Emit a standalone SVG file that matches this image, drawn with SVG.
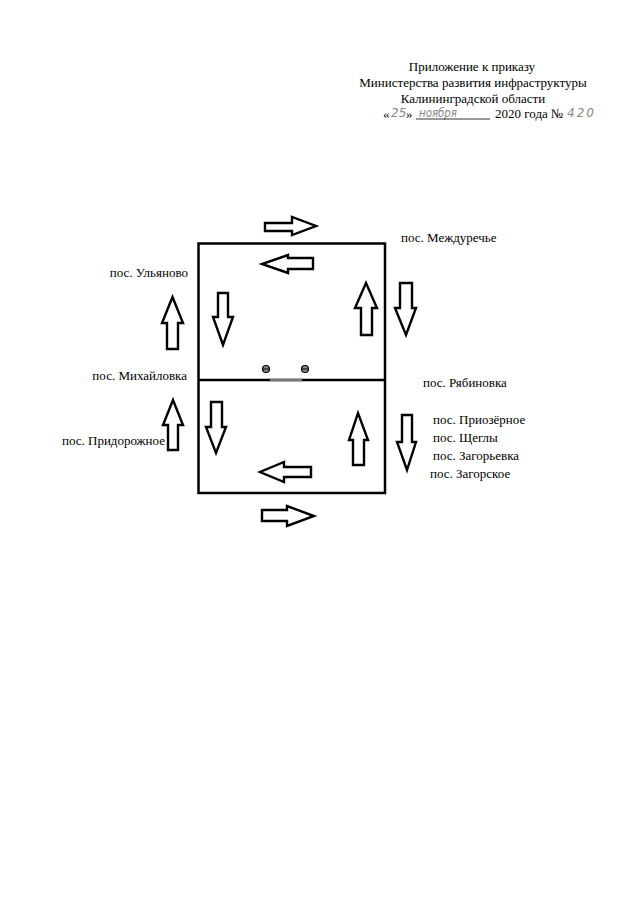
<svg xmlns="http://www.w3.org/2000/svg" width="640" height="905" viewBox="0 0 640 905">
<style>
.t{font-family:"Liberation Serif","Times New Roman",serif;font-size:13px;fill:#000}
.h{font-family:"DejaVu Sans","Liberation Sans",sans-serif;font-style:italic;font-weight:200;font-size:12px;fill:#888}
.ar{fill:#fff;stroke:#000;stroke-width:2.4;stroke-linejoin:miter}
.bx{fill:none;stroke:#000;stroke-width:2.5}
</style>
<rect width="640" height="905" fill="#fff"/>
<g id="header">
<text class="t" x="472" y="71" text-anchor="middle">Приложение к приказу</text>
<text class="t" x="473" y="87" text-anchor="middle">Министерства развития инфраструктуры</text>
<text class="t" x="473" y="103" text-anchor="middle">Калининградской области</text>
<text class="t" x="383" y="118">«</text>
<text class="h" x="391" y="117">25</text>
<text class="t" x="406" y="118">»</text>
<text class="h" x="419" y="117" textLength="38" lengthAdjust="spacingAndGlyphs">ноября</text>
<line x1="416" y1="119" x2="490" y2="119" stroke="#000" stroke-width="0.8"/>
<text class="t" x="495" y="118">2020 года №</text>
<text class="h" x="567" y="117" letter-spacing="2">420</text>
</g>
<g id="route-box">
<rect class="bx" x="198.5" y="243.5" width="186.5" height="249.5"/>
<line class="bx" x1="198.5" y1="380" x2="385" y2="380"/>
<line x1="270" y1="380" x2="302" y2="380" stroke="#777" stroke-width="2.5"/>
<g id="stops">
<circle cx="266" cy="369" r="3.5" fill="#888" stroke="#000" stroke-width="1.2"/>
<line x1="262.5" y1="369" x2="269.5" y2="369" stroke="#000" stroke-width="1"/>
<circle cx="305" cy="369" r="3.5" fill="#888" stroke="#000" stroke-width="1.2"/>
<line x1="301.5" y1="369" x2="308.5" y2="369" stroke="#000" stroke-width="1"/>
</g>
</g>
<g id="connectors">
<polygon class="ar" points="265,223 292,223 292,217 316,226 292,235 292,231 265,231"/>
<polygon class="ar" points="313,258 288,258 288,255 262,264 288,273 288,269 313,269"/>
<polygon class="ar" points="311,467 284,467 284,462 260,472 284,482 284,477 311,477"/>
<polygon class="ar" points="262,510 287,510 287,506 314,516 287,526 287,521 262,521"/>
<polygon class="ar" points="218,293 228,293 228,317 233,317 223,345 213,317 218,317"/>
<polygon class="ar" points="211,402 222,402 222,427 226,427 216,453 206,427 211,427"/>
<polygon class="ar" points="400,283 412,283 412,308 416,308 406,335 395,308 400,308"/>
<polygon class="ar" points="402,415 412,415 412,442 416,442 407,470 397,442 402,442"/>
<polygon class="ar" points="361,335 372,335 372,308 377,308 366,283 355,308 361,308"/>
<polygon class="ar" points="353,465 364,465 364,440 368,440 358,413 349,440 353,440"/>
<polygon class="ar" points="167,349 178,349 178,323 183,323 172.5,297 162,323 167,323"/>
<polygon class="ar" points="168,450 178,450 178,425 183,425 173,400 163,425 168,425"/>
</g>
<g id="label-mezhdurechye"><text class="t" x="401" y="242">пос. Междуречье</text></g>
<g id="label-ryabinovka"><text class="t" x="423" y="387">пос. Рябиновка</text></g>
<g id="label-priozernoe"><text class="t" x="433" y="424">пос. Приозёрное</text></g>
<g id="label-shchegly"><text class="t" x="433" y="442">пос. Щеглы</text></g>
<g id="label-zagoryevka"><text class="t" x="433" y="460">пос. Загорьевка</text></g>
<g id="label-zagorskoe"><text class="t" x="430" y="478">пос. Загорское</text></g>
<g id="label-ulyanovo"><text class="t" x="188" y="277" text-anchor="end">пос. Ульяново</text></g>
<g id="label-mikhaylovka"><text class="t" x="187" y="380" text-anchor="end">пос. Михайловка</text></g>
<g id="label-pridorozhnoe"><text class="t" x="165" y="445" text-anchor="end">пос. Придорожное</text></g>
</svg>
